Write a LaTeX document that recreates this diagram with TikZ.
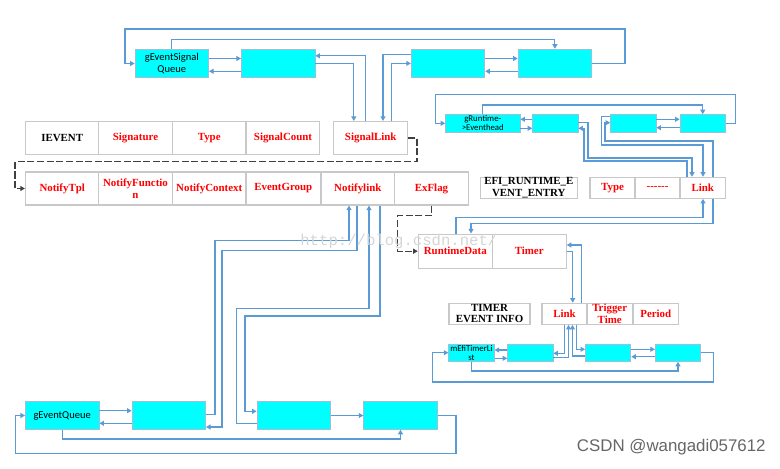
\documentclass[tikz,border=0pt]{standalone}
\usepackage{fontspec}
\setmainfont{Liberation Serif}
\newfontfamily\calfont{Carlito}
\newfontfamily\wmfont{Liberation Mono}
\newfontfamily\tagfont{Liberation Sans}
\usetikzlibrary{arrows.meta}
\definecolor{linkblue}{RGB}{91,155,213}
\definecolor{cellgray}{RGB}{200,200,200}
\definecolor{qcyan}{RGB}{0,255,255}
\definecolor{qedge}{RGB}{160,190,215}

\begin{document}
\begin{tikzpicture}[x=0.02cm,y=-0.02cm,
  cell/.style={draw=cellgray,fill=white,line width=0.6pt,inner sep=0pt,align=center,
    text=red,font=\fontsize{6.2}{6.5}\selectfont\bfseries,minimum width=1.47cm,minimum height=0.66cm},
  hcell/.style={cell,text=black},
  scell/.style={cell,minimum width=0.9cm,minimum height=0.42cm},
  qbig/.style={draw=qedge,fill=qcyan,line width=0.5pt,inner sep=0pt,align=center,
    font=\calfont\fontsize{6}{6.6}\selectfont,minimum width=1.47cm,minimum height=0.57cm},
  qsmall/.style={qbig,font=\calfont\fontsize{5}{5.3}\selectfont,minimum width=0.906cm,minimum height=0.346cm},
  link/.style={draw=linkblue,line width=0.6pt,-{Triangle[length=2.6pt,width=2.8pt]}},
  dlink/.style={draw=black!75,line width=0.7pt,dash pattern=on 4pt off 1.5pt,-{Triangle[length=2.6pt,width=2.8pt]}}]
\useasboundingbox (0,0) rectangle (780,469);
\node[qbig] (sq1) at (171.8,63.5) {gEventSignal\\Queue};
\node[qbig] (sq2) at (278.2,63.5) {};
\node[qbig] (sq3) at (448,63.5) {};
\node[qbig] (sq4) at (554.9,63.5) {};
\node[hcell] (ie) at (62.2,138) {IEVENT};
\node[cell] (sg) at (135.5,138) {Signature};
\node[cell] (ty) at (209.2,138) {Type};
\node[cell] (sc) at (283,138) {SignalCount};
\node[cell] (sl) at (370.7,138) {SignalLink};
\node[cell] (nt) at (62.2,188.5) {NotifyTpl};
\node[cell] (nf) at (135.5,188.5) {NotifyFunctio\\n};
\node[cell] (nc) at (209.2,188.5) {NotifyContext};
\node[cell] (eg) at (283.3,188.5) {EventGroup};
\node[cell] (nl) at (357.8,188.5) {Notifylink};
\node[cell] (ef) at (431.5,188.5) {ExFlag};
\node[qsmall,minimum width=1.486cm] (rq1) at (482.8,123.3) {gRuntime-\\>Eventhead};
\node[qsmall] (rq2) at (555.3,123.3) {};
\node[qsmall] (rq3) at (633.3,123.3) {};
\node[qsmall] (rq4) at (702.7,123.3) {};
\node[hcell,minimum width=1.95cm,minimum height=0.42cm] (re) at (528.8,187.8) {EFI\_RUNTIME\_E\\VENT\_ENTRY};
\node[scell] (rt) at (612.5,187.8) {Type};
\node[scell] (rx) at (657.5,187.8) {-{}-{}-{}-{}-{}-};
\node[scell] (rl) at (702.7,187.8) {Link};
\node[cell,minimum width=1.48cm,minimum height=0.686cm] (rd) at (455.3,251.2) {RuntimeData};
\node[cell,minimum width=1.48cm,minimum height=0.686cm] (tm) at (529.2,251.2) {Timer};
\node[hcell,minimum width=1.62cm,minimum height=0.42cm] (ti) at (489.5,313.8) {TIMER\\EVENT INFO};
\node[scell] (tl) at (564.5,313.8) {Link};
\node[scell] (tt) at (609.7,313.8) {Trigger\\Time};
\node[scell] (tp) at (655.8,313.8) {Period};
\node[qsmall] (tq1) at (471.5,352.7) {mEfiTimerLi\\st};
\node[qsmall] (tq2) at (530.3,352.7) {};
\node[qsmall] (tq3) at (608.2,352.7) {};
\node[qsmall] (tq4) at (678,352.7) {};
\node[qbig,minimum height=0.552cm] (eq1) at (62.2,415.5) {gEventQueue};
\node[qbig,minimum height=0.552cm] (eq2) at (168.8,415.5) {};
\node[qbig,minimum height=0.552cm] (eq3) at (293.8,415.5) {};
\node[qbig,minimum height=0.552cm] (eq4) at (400.5,415.5) {};
\foreach \a/\b/\yr/\yl in {sq1/sq2/58.5/71.3,sq3/sq4/58.5/71.3,rq1/rq2/128.3/119.3,
    rq3/rq4/119.3/127.7,tq1/tq2/358.3/350,tq3/tq4/349.3/356.7,eq1/eq2/410.7/423.3} {
  \draw[link] (\a.east |- 0,\yr) -- (\b.west |- 0,\yr);
  \draw[link] (\b.west |- 0,\yl) -- (\a.east |- 0,\yl);
}
\draw[link] (eq3) -- (eq4);
\draw[link] (sq4.east) -| (625,29) -| (sq1.west -| 125,0) -- (sq1.west);
\draw[link] (sq1.north) -- (sq1.north |- 0,39.6) -| (sq4.north);
\draw[link] (rq4.east) -| (735.3,94.7) -| (rq1.west -| 435.7,0) -- (rq1.west);
\draw[link] (rq1.north) -- (rq1.north |- 0,105) -| (rq4.north);
\draw[link] (tq4.east) -| (713.3,382) -| (tq1.west -| 432.3,0) -- (tq1.west);
\draw[link] (tq1.south) -- (tq1.south |- 0,371) -| (tq4.south);
\draw[link] (eq4.east) -| (456,453.3) -| (eq1.west -| 15.3,0) -- (eq1.west);
\draw[link] (eq1.south) -- (eq1.south |- 0,439) -| (eq4.south);
\draw[link] (sq2.east |- 0,63.4) -| (sl.north -| 353.8,0);
\draw[link] (sl.north -| 365.5,0) |- (sq2.east |- 0,55.8);
\draw[link] (sq3.west |- 0,54.4) -| (sl.north -| 383,0);
\draw[link] (sl.north -| 391.7,0) |- (sq3.west |- 0,63.4);
\draw[dlink] (sl.east) -| (417,161.7) -| (nt.west -| 15,0) -- (nt.west);
\draw[dlink] (ef.south) |- (397.7,215.7) |- (rd.west);
\draw[link] (eq2.east |- 0,414.7) -| (215,240.7) -| (nl.south -| 349,0);
\draw[link] (nl.south -| 357,0) |- (222,250.3) |- (eq2.east |- 0,427);
\draw[link] (eq3.west |- 0,423.3) -| (236.7,308.7) -| (nl.south -| 369,0);
\draw[link] (nl.south -| 380,0) |- (245,316) |- (eq3.west |- 0,411.3);
\draw[link] (rq2.east |- 0,122.7) -| (588,158) -| (rl.north -| 692,0);
\draw[link] (rl.north -| 687,0) |- (584,161) |- (rq2.east |- 0,128.3);
\draw[link] (rq3.west |- 0,116.7) -| (601.7,145) -| (rl.north -| 703,0);
\draw[link] (rl.north -| 713,0) |- (605,141) |- (rq3.west |- 0,122.7);
\draw[link] (rd.north -| 456,0) -- (456,217.3) -| (rl.south -| 703,0);
\draw[link] (rl.south -| 713,0) -- (713,223.3) -| (rd.north -| 471,0);
\draw[link] (tm.east |- 0,251.7) -| (tl.north -| 572.7,0);
\draw[link] (tl.north -| 581.7,0) |- (tm.east |- 0,245);
\draw[link] (tq2.east |- 0,357.7) -| (tl.south -| 568.5,0);
\draw[link] (tl.south -| 564.5,0) |- (tq2.east |- 0,353.3);
\draw[link] (tq3.west |- 0,356) -| (tl.south -| 572.5,0);
\draw[link] (tl.south -| 576.5,0) |- (tq3.west |- 0,349.3);
\node[font=\wmfont\fontsize{8.9}{9}\selectfont,text=black!16,anchor=west,inner sep=0pt] (wm) at (300,241) {http://blog.csdn.net/};
\node[font=\tagfont\fontsize{9.6}{10}\selectfont,text=black!60,anchor=east,inner sep=0pt] (tag) at (766,447) {CSDN @wangadi057612};
\end{tikzpicture}
\end{document}
